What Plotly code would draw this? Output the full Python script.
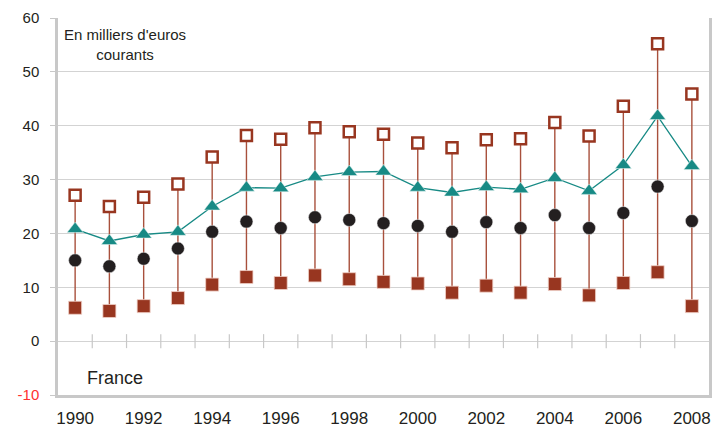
import plotly.graph_objects as go

# Annual values, thousands of current euros
years = list(range(1990, 2009))
upper = [27.1, 25.0, 26.7, 29.2, 34.2, 38.2, 37.5, 39.6, 38.9, 38.4,
         36.8, 35.9, 37.4, 37.6, 40.6, 38.1, 43.6, 55.2, 45.9]
mean_vals = [20.8, 18.6, 19.8, 20.3, 25.0, 28.5, 28.4, 30.5, 31.4, 31.5,
             28.5, 27.6, 28.6, 28.2, 30.3, 27.9, 32.7, 41.8, 32.5]
median_vals = [15.0, 13.9, 15.3, 17.2, 20.3, 22.2, 21.0, 23.0, 22.5, 21.9,
               21.4, 20.3, 22.1, 21.0, 23.4, 21.0, 23.8, 28.7, 22.3]
lower = [6.2, 5.6, 6.5, 8.0, 10.5, 11.9, 10.8, 12.2, 11.5, 11.0,
         10.7, 9.0, 10.3, 9.0, 10.6, 8.5, 10.8, 12.8, 6.5]

y_ticks = [-10, 0, 10, 20, 30, 40, 50, 60]
x_labels = list(range(1990, 2009, 2))

BROWN = "#983620"
WHISKER = "#a8503c"
TEAL = "#178a85"
DARK = "#231f20"
GRID = "#d3d3d3"
FRAME = "#c8c8c8"
FONT = "Arial, Liberation Sans, sans-serif"

# vertical range segments, lower to upper
wx, wy = [], []
for yr, lo, hi in zip(years, lower, upper):
    wx += [yr, yr, None]
    wy += [lo, hi, None]

fig = go.Figure()

# small category ticks along the zero line
fig.add_trace(go.Scatter(
    x=[y + 0.5 for y in years[:-1]], y=[0] * (len(years) - 1),
    mode="markers", hoverinfo="skip",
    marker=dict(symbol="line-ns", size=10, line=dict(color=FRAME, width=1.2)),
))

fig.add_trace(go.Scatter(
    x=wx, y=wy, mode="lines", hoverinfo="skip",
    line=dict(color=WHISKER, width=1.4),
))

fig.add_trace(go.Scatter(
    x=years, y=mean_vals, mode="lines+markers",
    line=dict(color=TEAL, width=1.3),
    marker=dict(symbol="triangle-up", size=14, color=TEAL,
                line=dict(color="#e8f4f3", width=0.5)),
))

fig.add_trace(go.Scatter(
    x=years, y=median_vals, mode="markers",
    marker=dict(symbol="circle", size=13, color=DARK,
                line=dict(color="#eeeeee", width=0.5)),
))

fig.add_trace(go.Scatter(
    x=years, y=lower, mode="markers",
    marker=dict(symbol="square", size=13, color=BROWN,
                line=dict(color="#f0d0c8", width=0.8)),
))

fig.add_trace(go.Scatter(
    x=years, y=upper, mode="markers",
    marker=dict(symbol="square", size=11, color="white",
                line=dict(color=BROWN, width=2.5)),
))

y_text = [f"<span style='color:#ff3030'>{v}</span>" if v < 0 else str(v) for v in y_ticks]

fig.update_layout(
    width=723, height=432,
    margin=dict(l=58, r=14, t=18, b=37, autoexpand=False),
    paper_bgcolor="white", plot_bgcolor="white",
    showlegend=False,
    font=dict(family=FONT, color=DARK),
    xaxis=dict(
        range=[1989.5, 2008.5],
        tickvals=x_labels, ticktext=[str(v) for v in x_labels],
        showgrid=False, zeroline=False, automargin=False,
        showline=True, linecolor=FRAME, linewidth=2.5,
        ticks="", ticklabelstandoff=6,
        tickfont=dict(size=17, color=DARK),
    ),
    yaxis=dict(
        range=[-10, 60],
        tickvals=y_ticks, ticktext=y_text,
        showgrid=True, gridcolor=GRID, gridwidth=1,
        zeroline=False, automargin=False,
        showline=True, linecolor=FRAME, linewidth=2.5, mirror=True,
        ticks="outside", ticklen=5, tickcolor=FRAME,
        ticklabelstandoff=8,
        tickfont=dict(size=15, color=DARK),
    ),
    annotations=[
        dict(text="En milliers d'euros<br>courants", xref="paper", yref="paper",
             x=0.006, y=0.985, xanchor="left", yanchor="top", align="center",
             showarrow=False, font=dict(size=15, color=DARK, family=FONT)),
        dict(text="France", xref="paper", yref="paper",
             x=0.041, y=0.045, xanchor="left", yanchor="middle",
             showarrow=False, font=dict(size=18, color=DARK, family=FONT)),
    ],
)

fig.write_html("out.html")
